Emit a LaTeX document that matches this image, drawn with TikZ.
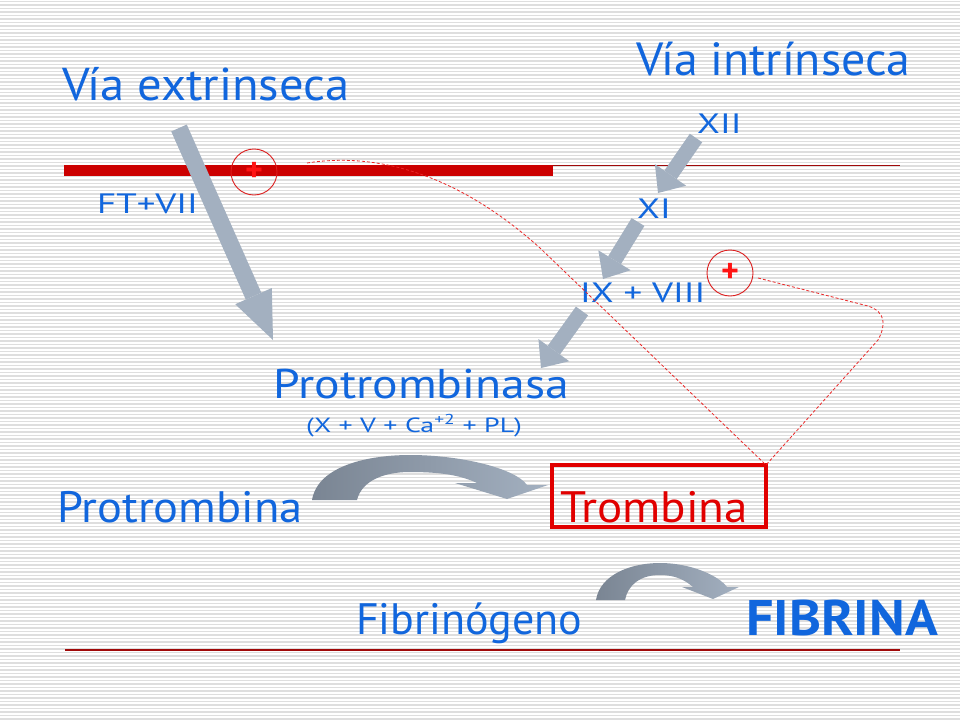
\documentclass[tikz,border=0pt]{standalone}
\usepackage{fontspec}
\setmainfont{PT Sans}
\newfontfamily\fExt[FakeStretch=1.056]{PT Sans}
\newfontfamily\fInt[FakeStretch=1.03]{PT Sans}
\newfontfamily\fPtasa[FakeStretch=1.15]{PT Sans}
\newfontfamily\fForm[FakeStretch=1.36]{PT Sans}
\newfontfamily\fPtb[FakeStretch=1.056]{PT Sans}
\newfontfamily\fTrb[FakeStretch=1.07]{PT Sans}
\newfontfamily\fFib[FakeStretch=1.085]{PT Sans}
\newfontfamily\fSmall[FakeStretch=1.32]{PT Sans}
\usetikzlibrary{arrows.meta}
\definecolor{txtblue}{RGB}{17,102,221}
\definecolor{arrgray}{RGB}{163,176,192}
\definecolor{arrdark}{RGB}{122,133,147}
\definecolor{barred}{RGB}{204,0,0}
\definecolor{linered}{RGB}{160,10,10}
\definecolor{dashred}{RGB}{235,40,40}
\definecolor{circred}{RGB}{220,30,30}
\definecolor{plusred}{RGB}{255,20,20}
\definecolor{boxred}{RGB}{225,0,0}
\definecolor{stripe}{RGB}{222,222,222}
\begin{document}
\begin{tikzpicture}[x=1pt,y=-1pt,
  lbl/.style={text=txtblue, inner sep=0pt, anchor=base west},
  bigtxt/.style={font=\fontsize{44}{48}\selectfont},
  smalltxt/.style={font=\fSmall\fontsize{28}{30}\selectfont},
  grayarrow/.style={draw=arrgray, line width=#1, line cap=butt},
  dashline/.style={draw=dashred, line width=0.8pt, dash pattern=on 3pt off 2pt},
  pluscirc/.style={circle, draw=circred, line width=0.9pt, minimum size=46pt, inner sep=0pt, text=plusred, font=\bfseries\fontsize{34}{34}\selectfont},
  arcshade/.style={left color=arrdark, right color=arrgray}
]
\useasboundingbox (0,0) rectangle (960,720);
\fill[white] (0,0) rectangle (960,720);
\foreach \yy in {1.5,5,...,720} \draw[stripe, line width=1.1pt] (0,\yy) -- (960,\yy);

% membrane bar and lines
\fill[barred] (64,165) rectangle (553,176);
\draw[linered, line width=1.4pt] (553,165.5) -- (900,165.5);
\draw[linered, line width=1.4pt] (65,650) -- (900,650);

% titles and labels
\node[lbl, font=\fExt\fontsize{46}{50}\selectfont] (ext) at (62,100) {Vía extrinseca};
\node[lbl, font=\fInt\fontsize{46.5}{50}\selectfont] (int) at (636,75) {Vía intrínseca};
\node[lbl, smalltxt] (ft) at (97,213) {FT+VII};
\node[lbl, smalltxt] (xii) at (697,133) {XII};
\node[lbl, smalltxt] (xi) at (637,218) {XI};
\node[lbl, smalltxt] (ix) at (580,302) {IX + VIII};
\node[lbl, font=\fPtasa\fontsize{41.5}{44}\selectfont] (ptasa) at (273,398) {Protrombinasa};
\node[lbl, font=\fForm\fontsize{20.5}{22}\selectfont] (form) at (306,432) {(X + V + Ca\textsuperscript{+2} + PL)};
\node[lbl, font=\fPtb\fontsize{44}{48}\selectfont] (ptb) at (57,522) {Protrombina};
\node[lbl, font=\fTrb\fontsize{44}{48}\selectfont, text=boxred] (trb) at (560,522) {Trombina};
\draw[boxred, line width=4pt] (552,465) rectangle (766,527);
\coordinate (boxcorner) at (766,465);
\node[lbl, bigtxt] (fbg) at (356,634) {Fibrinógeno};
\node[lbl, font=\fFib\bfseries\fontsize{50}{54}\selectfont] (fbr) at (746,635) {FIBRINA};

% gray straight arrows
\coordinate (a1s) at (179,128); \coordinate (a1e) at (273,340);
\draw[grayarrow=17pt, -{Triangle[length=48pt,width=40pt,line width=0pt]}] (a1s) -- (a1e);
\coordinate (a2s) at (696,138); \coordinate (a2e) at (658,193);
\draw[grayarrow=15pt, -{Triangle[length=22pt,width=38pt,line width=0pt]}] (a2s) -- (a2e);
\coordinate (a3s) at (638,222); \coordinate (a3e) at (603,279);
\draw[grayarrow=15pt, -{Triangle[length=22pt,width=38pt,line width=0pt]}] (a3s) -- (a3e);
\coordinate (a4s) at (582,311); \coordinate (a4e) at (541,368);
\draw[grayarrow=15pt, -{Triangle[length=22pt,width=38pt,line width=0pt]}] (a4s) -- (a4e);

% plus circles
\node[pluscirc] (c1) at (254,172) {+};
\node[pluscirc] (c2) at (730,273) {+};

% dashed feedback lines
\draw[dashline] (307,163) .. controls (390,150) and (470,185) .. (540,248) -- (boxcorner);
\draw[dashline] (758,278) -- (868,306) .. controls (886,312) and (886,325) .. (878,340) -- (boxcorner);

% curved arrows
\shade[arcshade] (312,500) .. controls (318,465) and (370,455) .. (410,455)
  .. controls (460,455) and (515,468) .. (527,485) -- (548,485) -- (507,499) -- (455,483) -- (477,483)
  .. controls (460,475) and (440,472) .. (410,472) .. controls (385,472) and (362,480) .. (357,500) -- cycle;
\shade[arcshade] (596,600) .. controls (600,575) and (630,563) .. (660,563)
  .. controls (690,563) and (718,575) .. (727,587) -- (739,587) -- (713,599) -- (682,587) -- (693,587)
  .. controls (685,580) and (675,575) .. (660,575) .. controls (640,575) and (628,585) .. (625,600) -- cycle;
\end{tikzpicture}
\end{document}
